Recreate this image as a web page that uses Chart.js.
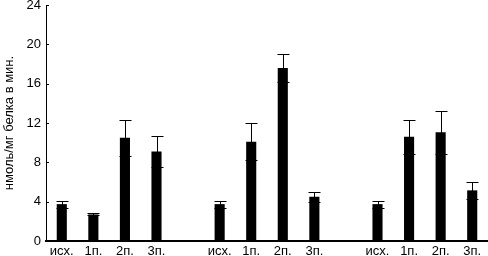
<!DOCTYPE html>
<html>
<head>
<meta charset="utf-8">
<script src="https://cdn.jsdelivr.net/npm/chart.js@4/dist/chart.umd.min.js"></script>
<style>
  html, body { margin: 0; padding: 0; background: #fff; }
  #wrap { width: 488px; height: 256px; position: relative; }
</style>
</head>
<body>
<div id="wrap"><canvas id="chart"></canvas></div>
<script>
// categories (empty strings are the gaps between groups)
const labels = ["исх.", "1п.", "2п.", "3п.", "",
                "исх.", "1п.", "2п.", "3п.", "",
                "исх.", "1п.", "2п.", "3п."];

// mean values and error (± SD), null = gap
const means = [3.75, 2.7, 10.5, 9.1, null,
               3.75, 10.1, 17.6, 4.5, null,
               3.75, 10.6, 11.05, 5.15];
const errs  = [0.35, 0.1, 1.85, 1.6, null,
               0.35, 1.9, 1.4, 0.5, null,
               0.35, 1.75, 2.2, 0.9];

const yTicks = [0, 4, 8, 12, 16, 20, 24];

const FONT = { family: "'Liberation Sans', Arial, sans-serif", size: 13 };

// error bars: vertical whisker + caps
const errorBars = {
  id: "errorBars",
  afterDatasetsDraw(chart) {
    const ctx = chart.ctx;
    const y = chart.scales.y;
    const meta = chart.getDatasetMeta(0);
    ctx.save();
    ctx.strokeStyle = "#000";
    ctx.lineWidth = 1;
    meta.data.forEach((bar, i) => {
      if (means[i] == null) return;
      const x = Math.round(bar.x) + 0.5;
      const yHi = Math.round(y.getPixelForValue(means[i] + errs[i])) + 0.5;
      const yLo = Math.round(y.getPixelForValue(means[i] - errs[i])) + 0.5;
      const half = 6;
      ctx.beginPath();
      ctx.moveTo(x, yHi); ctx.lineTo(x, yLo);
      ctx.moveTo(x - half, yHi); ctx.lineTo(x + half, yHi);
      ctx.moveTo(x - half, yLo); ctx.lineTo(x + half, yLo);
      ctx.stroke();
    });
    ctx.restore();
  }
};

// small inward ticks on the y axis
const innerTicks = {
  id: "innerTicks",
  afterDraw(chart) {
    const ctx = chart.ctx;
    const y = chart.scales.y;
    const left = chart.chartArea.left;
    ctx.save();
    ctx.strokeStyle = "#000";
    ctx.lineWidth = 1;
    yTicks.forEach(v => {
      const py = Math.round(y.getPixelForValue(v)) + 0.5;
      ctx.beginPath();
      ctx.moveTo(left, py); ctx.lineTo(left + 3, py);
      ctx.stroke();
    });
    ctx.restore();
  }
};

new Chart(document.getElementById("chart"), {
  type: "bar",
  data: {
    labels: labels,
    datasets: [{
      data: means,
      backgroundColor: "#000",
      borderWidth: 0,
      barPercentage: 0.32,
      categoryPercentage: 1
    }]
  },
  options: {
    responsive: true,
    maintainAspectRatio: false,
    animation: false,
    layout: { padding: { top: 5, right: 0, left: 0, bottom: 0 } },
    plugins: {
      legend: { display: false },
      tooltip: { enabled: false }
    },
    scales: {
      x: {
        grid: { display: false, drawTicks: false },
        border: { display: true, color: "#000", width: 2 },
        ticks: { color: "#000", font: FONT, maxRotation: 0, autoSkip: false, padding: 3 },
        afterFit: s => { s.height = 15; s.paddingLeft = 0; s.paddingRight = 0; }
      },
      y: {
        min: 0,
        max: 24,
        afterBuildTicks: s => { s.ticks = yTicks.map(v => ({ value: v })); },
        grid: { display: false, drawTicks: false },
        border: { display: true, color: "#000", width: 1 },
        ticks: { color: "#000", font: FONT, padding: 5 },
        title: {
          display: true,
          text: "нмоль/мг белка в мин.",
          color: "#000",
          font: FONT,
          padding: { top: 2, bottom: 0 }
        },
        afterFit: s => { s.width = 46; s.paddingTop = 0; s.paddingBottom = 0; }
      }
    }
  },
  plugins: [errorBars, innerTicks]
});
</script>
</body>
</html>
